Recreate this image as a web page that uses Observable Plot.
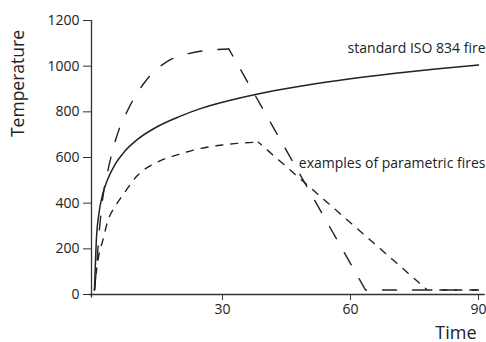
<!DOCTYPE html>
<html>
<head>
<meta charset="utf-8">
<script src="https://cdn.jsdelivr.net/npm/d3@7"></script>
<script src="https://cdn.jsdelivr.net/npm/@observablehq/plot@0.6"></script>
<style>
  html, body { margin: 0; padding: 0; background: #fff; }
  #chart { width: 486px; height: 342px; }
</style>
</head>
<body>
<div id="chart"></div>
<script>
// Standard ISO 834 fire curve (time in minutes, temperature in °C)
const isoTime = [0, 0.5, 1, 2, 3, 5, 7, 10, 15, 20, 25, 30, 40, 50, 60, 70, 80, 90];
const isoTemp = [20, 260, 350, 445, 500, 575, 625, 678, 738, 780, 815, 842, 885, 918, 945, 968, 988, 1005];

// Parametric fire 1 (long dashes): heating phase, then cooling phase
const fire1HeatTime = [0, 0.5, 1, 2, 3, 5, 8, 12, 17, 22, 27, 31.5];
const fire1HeatTemp = [20, 120, 250, 430, 530, 680, 815, 935, 1020, 1055, 1070, 1075];
const fire1CoolTime = [31.5, 63.5, 90];
const fire1CoolTemp = [1075, 20, 20];

// Parametric fire 2 (short dashes): heating phase, then cooling phase
const fire2HeatTime = [0, 0.5, 1, 2, 3, 5, 7, 10, 15, 20, 25, 30, 35, 38.4];
const fire2HeatTemp = [20, 110, 170, 240, 315, 390, 445, 520, 582, 615, 640, 655, 664, 667];
const fire2CoolTime = [38.4, 78, 90];
const fire2CoolTemp = [667, 20, 20];

const xTicks = [30, 60, 90];
const yTicks = [0, 200, 400, 600, 800, 1000, 1200];

const labels = [
  {text: "standard ISO 834 fire", t: 90, T: 1078},
  {text: "examples of parametric fires", t: 90, T: 574}
];

const rows = (ts, vs) => ts.map((t, i) => ({t, T: vs[i]}));
const iso = rows(isoTime, isoTemp);
const f1h = rows(fire1HeatTime, fire1HeatTemp);
const f1c = rows(fire1CoolTime, fire1CoolTemp);
const f2h = rows(fire2HeatTime, fire2HeatTemp);
const f2c = rows(fire2CoolTime, fire2CoolTemp);

const xMin = -0.7, xMax = 90;
const ink = "#222";
const longDash = "14,16";
const shortDash = "7,8";

const chart = Plot.plot({
  width: 486,
  height: 342,
  marginLeft: 91,
  marginRight: 8,
  marginTop: 20,
  marginBottom: 48,
  style: {fontFamily: "'Open Sans', 'Noto Sans', sans-serif", color: ink, background: "#fff"},
  x: {domain: [xMin, xMax]},
  y: {domain: [0, 1200]},
  marks: [
    Plot.axisX({ticks: xTicks, tickSize: 6, tickPadding: 4, fontSize: 14, label: null, stroke: "#333", tickFormat: d3.format("d")}),
    Plot.axisY({ticks: yTicks, tickSize: 8, tickPadding: 4, fontSize: 14, label: null, stroke: "#333", tickFormat: d3.format("d")}),
    Plot.ruleX([xMin], {y1: -15, y2: 1200, stroke: "#333", strokeWidth: 1.3, clip: false}),
    Plot.ruleY([0], {x1: -1.2, x2: 91.6, stroke: "#333", strokeWidth: 1.3, clip: false}),
    Plot.line(iso, {x: "t", y: "T", curve: "monotone-x", stroke: ink, strokeWidth: 1.5}),
    Plot.line(f1h, {x: "t", y: "T", curve: "monotone-x", stroke: ink, strokeWidth: 1.4, strokeDasharray: longDash}),
    Plot.line(f1c, {x: "t", y: "T", curve: "linear", stroke: ink, strokeWidth: 1.4, strokeDasharray: longDash, strokeDashoffset: 6}),
    Plot.line(f2h, {x: "t", y: "T", curve: "monotone-x", stroke: ink, strokeWidth: 1.4, strokeDasharray: shortDash}),
    Plot.line(f2c, {x: "t", y: "T", curve: "linear", stroke: ink, strokeWidth: 1.4, strokeDasharray: shortDash, strokeDashoffset: 3}),
    Plot.text(labels, {x: "t", y: "T", text: "text", textAnchor: "end", dx: 7, fontSize: 14, fill: ink, clip: false}),
    Plot.text(["Temperature"], {frameAnchor: "top-left", rotate: -90, dx: -80, dy: 63, fontSize: 17.5, fill: ink, textAnchor: "middle"}),
    Plot.text(["Time"], {frameAnchor: "bottom-right", dx: -2, dy: 44, fontSize: 18, fill: ink, textAnchor: "end"})
  ]
});
document.getElementById("chart").appendChild(chart);
</script>
</body>
</html>
